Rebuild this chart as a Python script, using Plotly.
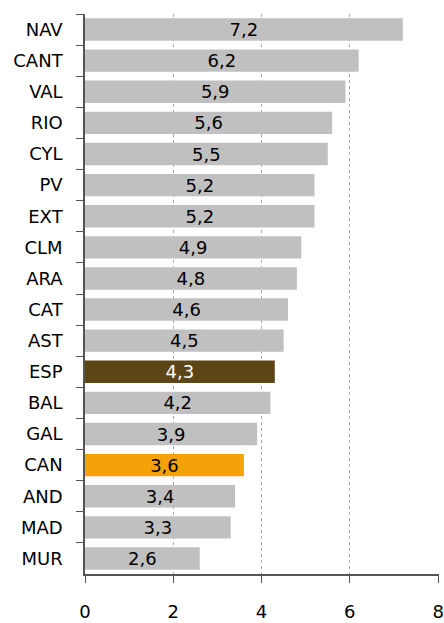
import plotly.graph_objects as go

categories = ["NAV", "CANT", "VAL", "RIO", "CYL", "PV", "EXT", "CLM", "ARA",
              "CAT", "AST", "ESP", "BAL", "GAL", "CAN", "AND", "MAD", "MUR"]
values = [7.2, 6.2, 5.9, 5.6, 5.5, 5.2, 5.2, 4.9, 4.8,
          4.6, 4.5, 4.3, 4.2, 3.9, 3.6, 3.4, 3.3, 2.6]
x_ticks = [0, 2, 4, 6, 8]

def bar_color(c):
    if c == "ESP":
        return "#5C4516"
    if c == "CAN":
        return "#F5A20A"
    return "#C0C0C0"

colors = [bar_color(c) for c in categories]
text_colors = ["white" if c == "ESP" else "black" for c in categories]
labels = [f"{v:.1f}".replace(".", ",") for v in values]

fig = go.Figure(go.Bar(
    x=values, y=categories, orientation="h",
    marker=dict(color=colors, line=dict(width=0)),
    width=0.72,
    text=labels, textposition="inside", insidetextanchor="middle",
    textangle=0, constraintext="none",
    textfont=dict(family="DejaVu Sans", size=18, color=text_colors),
    cliponaxis=False,
))

fig.update_layout(
    width=444, height=623,
    margin=dict(l=85, r=5, t=14, b=49),
    paper_bgcolor="white", plot_bgcolor="white",
    showlegend=False,
    font=dict(family="DejaVu Sans", color="black"),
    uniformtext=dict(minsize=18, mode="show"),
)
fig.update_xaxes(
    range=[0, 8.02], tickvals=x_ticks, ticktext=[str(t) for t in x_ticks],
    showgrid=True, gridcolor="#aaaaaa", griddash="dot", gridwidth=1,
    showline=True, linecolor="#555555", linewidth=1.5,
    ticks="outside", ticklen=7, tickcolor="#555555",
    tickfont=dict(size=18), ticklabelstandoff=14, ticklabeloverflow="allow",
    zeroline=False, automargin=False,
)
fig.update_yaxes(
    categoryorder="array", categoryarray=categories, autorange="reversed",
    showline=True, linecolor="#555555", linewidth=1.5,
    ticks="outside", ticklen=7, tickcolor="#555555", tickson="boundaries",
    tickfont=dict(size=18), ticklabelstandoff=17,
    showgrid=False, automargin=False,
)

fig.write_html(
    "out.html",
    config={"displayModeBar": False},
    post_script="document.body.style.margin='0';document.body.style.overflow='hidden';",
)
